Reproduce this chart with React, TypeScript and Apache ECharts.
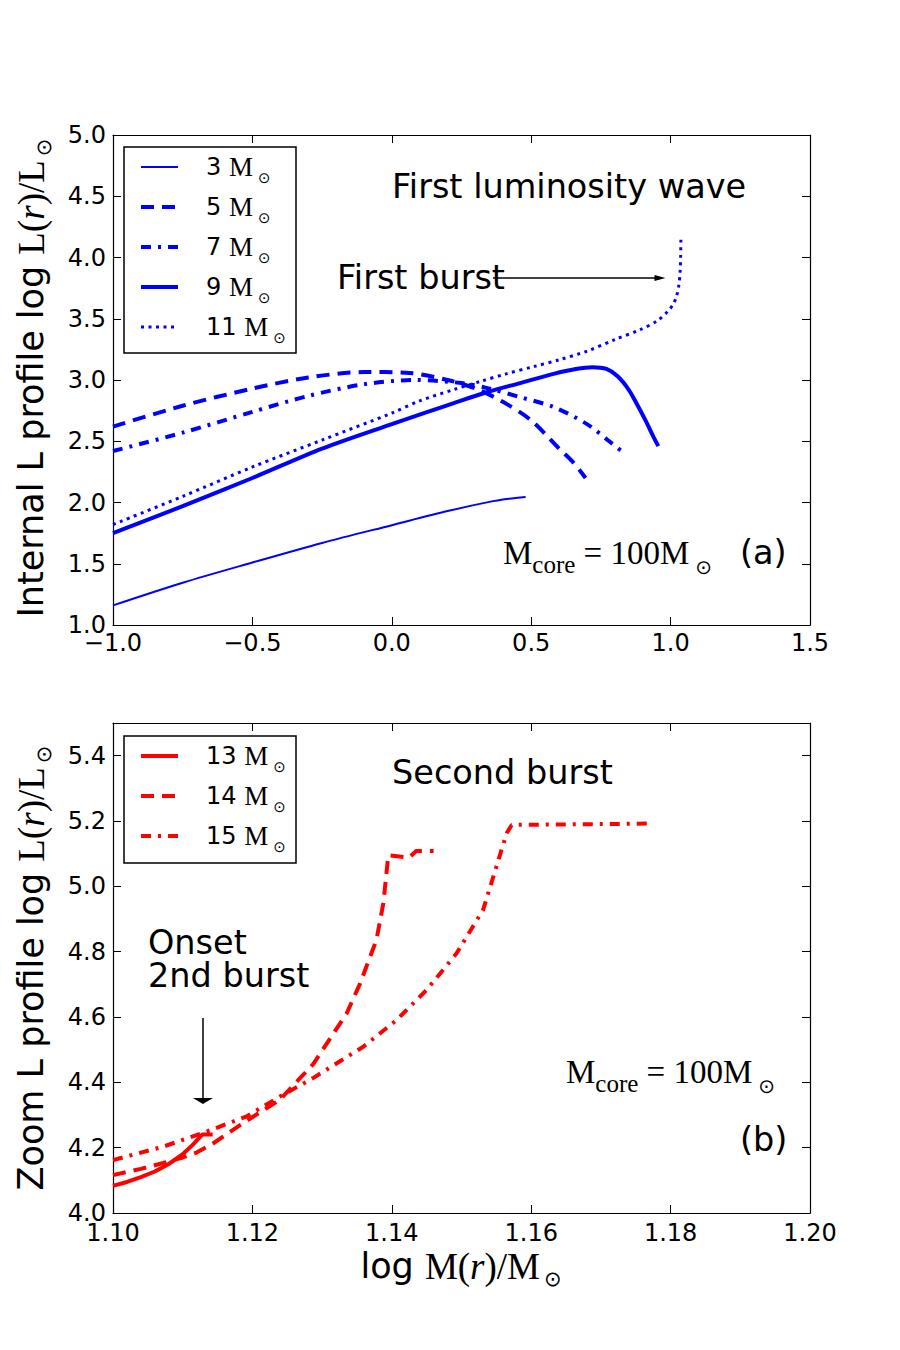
import React, { useEffect, useRef } from 'react';
import * as echarts from 'echarts';

// ---------- Panel (a) data ----------
const m3X = [-1.0, -0.75, -0.5, -0.25, 0.0, 0.2, 0.35, 0.42, 0.48];
const m3Y = [1.16, 1.345, 1.51, 1.67, 1.815, 1.93, 2.005, 2.03, 2.045];

const m5X = [-1.0, -0.75, -0.5, -0.3, -0.1, 0.05, 0.2, 0.3, 0.4, 0.5, 0.6, 0.65, 0.695];
const m5Y = [2.62, 2.79, 2.93, 3.02, 3.065, 3.06, 3.0, 2.93, 2.82, 2.67, 2.44, 2.33, 2.2];

const m7X = [-1.0, -0.75, -0.5, -0.3, -0.1, 0.08, 0.25, 0.35, 0.46, 0.58, 0.7, 0.78, 0.84];
const m7Y = [2.42, 2.57, 2.74, 2.87, 2.965, 3.0, 2.975, 2.93, 2.86, 2.78, 2.64, 2.5, 2.39];

const m9X = [-1.0, -0.75, -0.5, -0.25, 0.0, 0.22, 0.34, 0.46, 0.58, 0.66, 0.72, 0.77, 0.81, 0.85, 0.88, 0.91, 0.94, 0.956];
const m9Y = [1.75, 1.97, 2.2, 2.44, 2.64, 2.81, 2.9, 2.975, 3.05, 3.09, 3.105, 3.09, 3.03, 2.92, 2.8, 2.67, 2.53, 2.46];

const m11X = [-1.0, -0.75, -0.5, -0.25, 0.0, 0.1, 0.22, 0.32, 0.41, 0.51, 0.6, 0.7, 0.8, 0.89, 0.95, 0.99, 1.01, 1.022, 1.03, 1.034, 1.036, 1.037];
const m11Y = [1.82, 2.05, 2.29, 2.51, 2.73, 2.83, 2.92, 2.99, 3.05, 3.11, 3.165, 3.235, 3.33, 3.41, 3.48, 3.56, 3.62, 3.69, 3.78, 3.88, 4.0, 4.17];

// ---------- Panel (b) data ----------
const m13X = [1.1, 1.102, 1.104, 1.106, 1.108, 1.11, 1.1115, 1.1128, 1.1143];
const m13Y = [4.083, 4.095, 4.11, 4.127, 4.15, 4.18, 4.21, 4.24, 4.24];

const m14X = [1.1, 1.104, 1.1072, 1.11, 1.112, 1.1143, 1.119, 1.1239, 1.1287, 1.1335, 1.1354, 1.1378, 1.1388, 1.1395, 1.1425, 1.1435, 1.146];
const m14Y = [4.116, 4.135, 4.153, 4.17, 4.185, 4.212, 4.28, 4.346, 4.455, 4.61, 4.7, 4.836, 4.95, 5.095, 5.088, 5.108, 5.108];

const m15X = [1.1, 1.1072, 1.1129, 1.1191, 1.1239, 1.1287, 1.1359, 1.1407, 1.145, 1.1493, 1.1531, 1.155, 1.1565, 1.1572, 1.1766];
const m15Y = [4.162, 4.203, 4.245, 4.295, 4.356, 4.413, 4.509, 4.591, 4.683, 4.795, 4.928, 5.06, 5.163, 5.188, 5.192];

// Annotation arrows (data coordinates)
const burstArrow = { x0: 0.363, x1: 0.962, y: 3.833 };
const onsetArrow = { x: 1.1129, y0: 4.597, y1: 4.343 };

// Legend labels
const topLegend = ['3', '5', '7', '9', '11'];
const botLegend = ['13', '14', '15'];

const BLUE = '#0000ff';
const RED = '#ff0000';
const SANS = 'DejaVu Sans';
const SERIF = 'Liberation Serif';

const pairs = (xs: number[], ys: number[]) => xs.map((x, i) => [x, ys[i]]);

const fmt = (v: number, d: number) => (v < -1e-9 ? '\u2212' + Math.abs(v).toFixed(d) : Math.abs(v).toFixed(d));

function xAx(grid: number, pos: string, min: number, max: number, interval: number, d: number, show: boolean, margin = 7) {
  return {
    type: 'value', gridIndex: grid, position: pos, min, max, interval,
    axisLine: { show: true, onZero: false, lineStyle: { color: '#000', width: 1.2 } },
    axisTick: { show: true, inside: true, length: 8, lineStyle: { color: '#000', width: 1 } },
    splitLine: { show: false },
    axisLabel: { show, margin, lineHeight: 20, color: '#000', fontSize: 24, fontFamily: SANS, formatter: (v: number) => fmt(v, d) },
  };
}
function yAx(grid: number, pos: string, min: number, max: number, interval: number, d: number, show: boolean, hideAbove?: number) {
  return {
    type: 'value', gridIndex: grid, position: pos, min, max, interval,
    axisLine: { show: true, onZero: false, lineStyle: { color: '#000', width: 1.2 } },
    axisTick: { show: true, inside: true, length: 8, lineStyle: { color: '#000', width: 1 } },
    splitLine: { show: false },
    axisLabel: {
      show, margin: 7, lineHeight: 16, color: '#000', fontSize: 24, fontFamily: SANS,
      formatter: (v: number) => (hideAbove !== undefined && v > hideAbove + 1e-9 ? '' : fmt(v, d)),
    },
  };
}

function ser(name: string, xs: number[], ys: number[], color: string, width: number, type: any, xi: number, yi: number, smooth: any) {
  return {
    name, type: 'line', xAxisIndex: xi, yAxisIndex: yi, data: pairs(xs, ys),
    showSymbol: false, symbol: 'none', smooth, clip: true,
    lineStyle: { color, width, type, cap: 'butt' }, itemStyle: { color }, z: 3,
  };
}

const DASH = [13, 8];
const DASHDOT = [10, 7, 3, 7];
const DOT = [3, 4.5];

const topStyles = [
  { w: 2, t: 'solid' },
  { w: 4, t: DASH },
  { w: 4, t: DASHDOT },
  { w: 4, t: 'solid' },
  { w: 3, t: DOT },
];
const botStyles = [
  { w: 4, t: 'solid' },
  { w: 4, t: DASH },
  { w: 4, t: DASHDOT },
];

const msunRich = {
  n: { fontFamily: SANS, fontSize: 24, lineHeight: 36, verticalAlign: 'middle', color: '#000' },
  m: { fontFamily: SERIF, fontSize: 27, lineHeight: 36, verticalAlign: 'middle', color: '#000' },
  o: { fontFamily: SANS, fontSize: 15, lineHeight: 14, verticalAlign: 'bottom', color: '#000', padding: [0, 0, 0, 5] },
};

function legendGraphics(x: number, y: number, w: number, h: number, rows: number[], labels: string[], styles: any[], color: string) {
  const els: any[] = [
    { type: 'rect', shape: { x, y, width: w, height: h }, style: { fill: '#fff', stroke: '#000', lineWidth: 1.5 }, z: 100 },
  ];
  labels.forEach((lab, i) => {
    const st = styles[i];
    els.push({
      type: 'line', shape: { x1: 141, y1: rows[i], x2: 178, y2: rows[i] },
      style: { stroke: color, lineWidth: st.w, lineDash: st.t === 'solid' ? null : st.t, lineCap: 'butt' }, z: 101,
    });
    els.push({
      type: 'text', x: 206, y: rows[i], z: 101,
      style: { text: `{n|${lab} }{m|M}{o|\u2299}`, rich: msunRich, align: 'left', verticalAlign: 'middle' },
    });
  });
  return els;
}

const axisTitleRich = {
  s: { fontFamily: SANS, fontSize: 35, lineHeight: 46, verticalAlign: 'middle', color: '#000' },
  m: { fontFamily: SERIF, fontSize: 37, lineHeight: 46, verticalAlign: 'middle', color: '#000' },
  i: { fontFamily: SERIF, fontStyle: 'italic', fontSize: 37, lineHeight: 46, verticalAlign: 'middle', color: '#000' },
  o: { fontFamily: SANS, fontSize: 21, lineHeight: 22, verticalAlign: 'bottom', color: '#000', padding: [0, 0, 0, 4] },
};

const coreRich = {
  m: { fontFamily: SERIF, fontSize: 33, lineHeight: 48, verticalAlign: 'middle', color: '#000' },
  c: { fontFamily: SERIF, fontSize: 25, lineHeight: 24, verticalAlign: 'bottom', color: '#000' },
  o: { fontFamily: SANS, fontSize: 20, lineHeight: 22, verticalAlign: 'bottom', color: '#000', padding: [0, 0, 0, 6] },
};

const sansText = (text: string, x: number, y: number) => ({
  type: 'text', x, y, z: 100,
  style: { text, fontFamily: SANS, fontSize: 33.5, lineHeight: 30, fill: '#000', align: 'left', verticalAlign: 'middle' },
});

const option: any = {
  animation: false,
  backgroundColor: '#fff',
  grid: [
    { left: 113, top: 135, width: 697, height: 490 },
    { left: 113, top: 723, width: 697, height: 490 },
  ],
  xAxis: [
    xAx(0, 'bottom', -1, 1.5, 0.5, 1, true, 8),
    xAx(0, 'top', -1, 1.5, 0.5, 1, false),
    xAx(1, 'bottom', 1.1, 1.2, 0.02, 2, true, 10),
    xAx(1, 'top', 1.1, 1.2, 0.02, 2, false),
  ],
  yAxis: [
    yAx(0, 'left', 1, 5, 0.5, 1, true),
    yAx(0, 'right', 1, 5, 0.5, 1, false),
    yAx(1, 'left', 4, 5.5, 0.2, 1, true, 5.4),
    yAx(1, 'right', 4, 5.5, 0.2, 1, false),
  ],
  series: [
    ser('3 M\u2299', m3X, m3Y, BLUE, topStyles[0].w, topStyles[0].t, 0, 0, 0.3),
    ser('5 M\u2299', m5X, m5Y, BLUE, topStyles[1].w, topStyles[1].t, 0, 0, 0.3),
    ser('7 M\u2299', m7X, m7Y, BLUE, topStyles[2].w, topStyles[2].t, 0, 0, 0.3),
    ser('9 M\u2299', m9X, m9Y, BLUE, topStyles[3].w, topStyles[3].t, 0, 0, 0.3),
    ser('11 M\u2299', m11X, m11Y, BLUE, topStyles[4].w, topStyles[4].t, 0, 0, 0.3),
    ser('13 M\u2299', m13X, m13Y, RED, botStyles[0].w, botStyles[0].t, 2, 2, false),
    ser('14 M\u2299', m14X, m14Y, RED, botStyles[1].w, botStyles[1].t, 2, 2, false),
    ser('15 M\u2299', m15X, m15Y, RED, botStyles[2].w, botStyles[2].t, 2, 2, false),
    {
      name: 'burstArrow', type: 'line', xAxisIndex: 0, yAxisIndex: 0, data: [], symbol: 'none',
      markLine: {
        silent: true, symbol: ['none', 'triangle'], symbolSize: [6, 11], label: { show: false },
        lineStyle: { color: '#000', width: 1.5, type: 'solid' }, emphasis: { disabled: true },
        data: [[{ coord: [burstArrow.x0, burstArrow.y] }, { coord: [burstArrow.x1, burstArrow.y] }]],
      },
    },
    {
      name: 'onsetArrow', type: 'line', xAxisIndex: 2, yAxisIndex: 2, data: [], symbol: 'none',
      markLine: {
        silent: true, symbol: ['none', 'triangle'], symbolSize: [20, 6], label: { show: false },
        lineStyle: { color: '#000', width: 1.5, type: 'solid' }, emphasis: { disabled: true },
        data: [[{ coord: [onsetArrow.x, onsetArrow.y0] }, { coord: [onsetArrow.x, onsetArrow.y1] }]],
      },
    },
  ],
  graphic: [
    ...legendGraphics(124, 147, 172, 206, [167, 207, 247, 287, 327], topLegend, topStyles, BLUE),
    ...legendGraphics(124, 736, 172, 127, [756, 796, 836], botLegend, botStyles, RED),
    sansText('First luminosity wave', 392, 186),
    sansText('First burst', 337, 277),
    sansText('(a)', 740, 552),
    sansText('Second burst', 392, 772),
    sansText('Onset', 148, 942),
    sansText('2nd burst', 148, 975),
    sansText('(b)', 740, 1139),
    {
      type: 'text', x: 503, y: 553, z: 100,
      style: { text: '{m|M}{c|core}{m| = 100M}{o|\u2299}', rich: coreRich, align: 'left', verticalAlign: 'middle' },
    },
    {
      type: 'text', x: 566, y: 1072, z: 100,
      style: { text: '{m|M}{c|core}{m| = 100M}{o|\u2299}', rich: coreRich, align: 'left', verticalAlign: 'middle' },
    },
    {
      type: 'text', x: 31, y: 378, rotation: Math.PI / 2, z: 100,
      style: { text: '{s|Internal L profile log }{m|L(}{i|r}{m|)/L}{o|\u2299}', rich: axisTitleRich, align: 'center', verticalAlign: 'middle' },
    },
    {
      type: 'text', x: 31, y: 968, rotation: Math.PI / 2, z: 100,
      style: { text: '{s|Zoom L profile log }{m|L(}{i|r}{m|)/L}{o|\u2299}', rich: axisTitleRich, align: 'center', verticalAlign: 'middle' },
    },
    {
      type: 'text', x: 461, y: 1266, z: 100,
      style: { text: '{s|log }{m|M(}{i|r}{m|)/M}{o|\u2299}', rich: axisTitleRich, align: 'center', verticalAlign: 'middle' },
    },
  ],
};

export default function App() {
  const ref = useRef<HTMLDivElement>(null);
  useEffect(() => {
    const chart = echarts.init(ref.current as HTMLDivElement, null, { renderer: 'svg' });
    chart.setOption(option);
    return () => chart.dispose();
  }, []);
  return (
    <div
      ref={ref}
      style={{ position: 'absolute', left: 0, top: 0, width: 900, height: 1350, background: '#fff' }}
    />
  );
}
